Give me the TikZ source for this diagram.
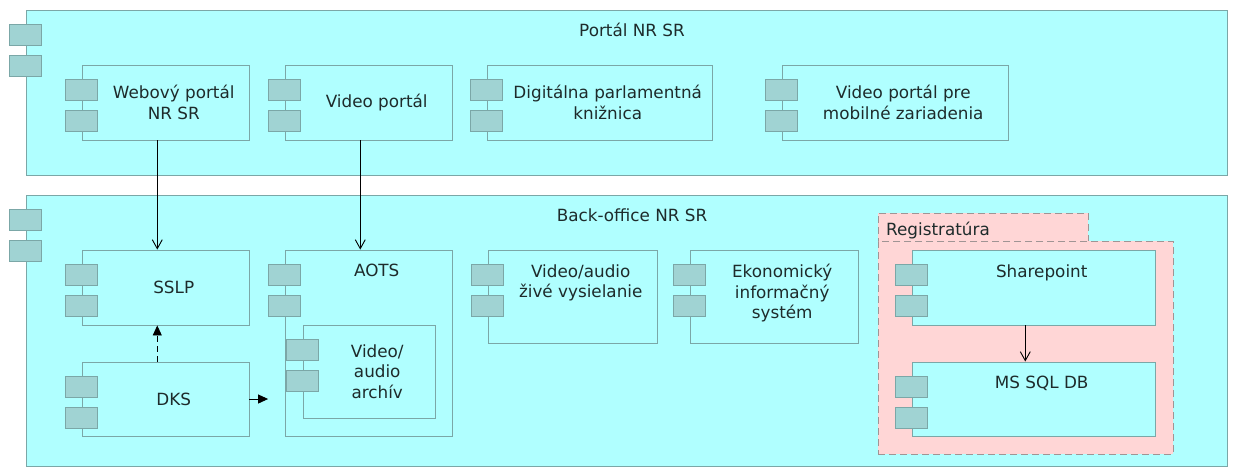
\documentclass[tikz,border=0pt]{standalone}
\usepackage{fontspec}
\setmainfont{DejaVu Sans}
\usetikzlibrary{fit,calc,arrows.meta}
\definecolor{cfill}{HTML}{B0FFFF}
\definecolor{cline}{HTML}{7BA7A7}
\definecolor{ifill}{HTML}{A0D3D3}
\definecolor{rfill}{HTML}{FFD6D6}
\definecolor{rline}{HTML}{A09494}
\definecolor{txt}{HTML}{1E2B2B}
\tikzset{
  cbox/.style={draw=cline, fill=cfill, line width=0.9pt, inner sep=0pt},
  rbox/.style={draw=rline, fill=rfill, line width=0.9pt, inner sep=0pt, dash pattern=on 7pt off 4pt},
  icon/.style={draw=cline, fill=ifill, line width=0.9pt, minimum width=32pt, minimum height=21pt, inner sep=0pt},
  lbl/.style={text=txt, font=\fontsize{16.8}{20.5}\selectfont, align=center, inner sep=0pt},
  serve/.style={draw=black, line width=0.9pt, -{Straight Barb[length=9pt,width=10pt]}},
  flowarr/.style={draw=black, line width=0.9pt, dash pattern=on 6pt off 4pt, -{Triangle[length=10pt,width=9pt]}},
  trig/.style={draw=black, line width=0.9pt, -{Triangle[length=10pt,width=9pt]}}
}
\newcommand\comp[5]{%
  \node[cbox, fit={(#2,#3)(#4,#5)}] (#1) {};
  \node[icon] (#1-i1) at ($(#1.north west)+(0,25.5)$) {};
  \node[icon] (#1-i2) at ($(#1.north west)+(0,56.5)$) {};
}
\newcommand\ctxt[2]{%
  \node[lbl] (#1-t) at ($(#1-i1.east |- #1.center)!0.5!(#1.east)$) {#2};
}
\newcommand\ttxt[2]{%
  \node[lbl, anchor=north] (#1-t) at ($(#1-i1.east |- #1.north)!0.5!(#1.north east)+(0,14.5)$) {#2};
}
\begin{document}
\begin{tikzpicture}[x=1pt, y=-1pt]
\useasboundingbox (0,0) rectangle (1233,467);
% containers
\comp{portal}{26}{10}{1227}{175}
\node[lbl, anchor=base] (portal-t) at (632,36) {Portál NR SR};
\comp{back}{26}{195}{1227}{466}
\node[lbl, anchor=base] (back-t) at (632,221) {Back-office NR SR};
% Registratura
\node[rbox, fit={(878,213)(1088,241)}] (regtab) {};
\node[rbox, fit={(878,241)(1173,454)}] (reg) {};
\node[lbl, anchor=base west] (reg-t) at (886,235) {Registratúra};
% components top
\comp{web}{82}{65}{249}{140}
\ctxt{web}{Webový portál\\NR SR}
\comp{vid}{285}{65}{452}{140}
\ctxt{vid}{Video portál}
\comp{dpk}{487}{65}{712}{140}
\ctxt{dpk}{Digitálna parlamentná\\knižnica}
\comp{vmob}{782}{65}{1008}{140}
\ctxt{vmob}{Video portál pre\\mobilné zariadenia}
% components back-office
\comp{sslp}{82}{250}{249}{325}
\ctxt{sslp}{SSLP}
\comp{dks}{82}{362}{249}{436}
\ctxt{dks}{DKS}
\comp{aots}{285}{250}{452}{436}
\ttxt{aots}{AOTS}
\comp{arch}{303}{325}{435}{418}
\ctxt{arch}{Video/\\audio\\archív}
\comp{live}{488}{250}{657}{343}
\ttxt{live}{Video/audio\\živé vysielanie}
\comp{eko}{690}{250}{858}{343}
\ttxt{eko}{Ekonomický\\informačný\\systém}
\comp{sp}{912}{250}{1155}{325}
\ttxt{sp}{Sharepoint}
\comp{sql}{912}{362}{1155}{436}
\ttxt{sql}{MS SQL DB}
% connectors
\coordinate (webc) at ($(web-i1.west)!0.5!(web.east)$);
\coordinate (vidc) at ($(vid-i1.west)!0.5!(vid.east)$);
\coordinate (spc) at ($(sp-i1.west)!0.5!(sp.east)$);
\draw[serve] (web.south -| webc) -- (sslp.north -| webc);
\draw[serve] (vid.south -| vidc) -- (aots.north -| vidc);
\draw[flowarr] (dks.north -| webc) -- (sslp.south -| webc);
\draw[trig] (dks.east) -- (dks.east -| aots-i1.west);
\draw[serve] (sp.south -| spc) -- (sql.north -| spc);
\end{tikzpicture}
\end{document}
